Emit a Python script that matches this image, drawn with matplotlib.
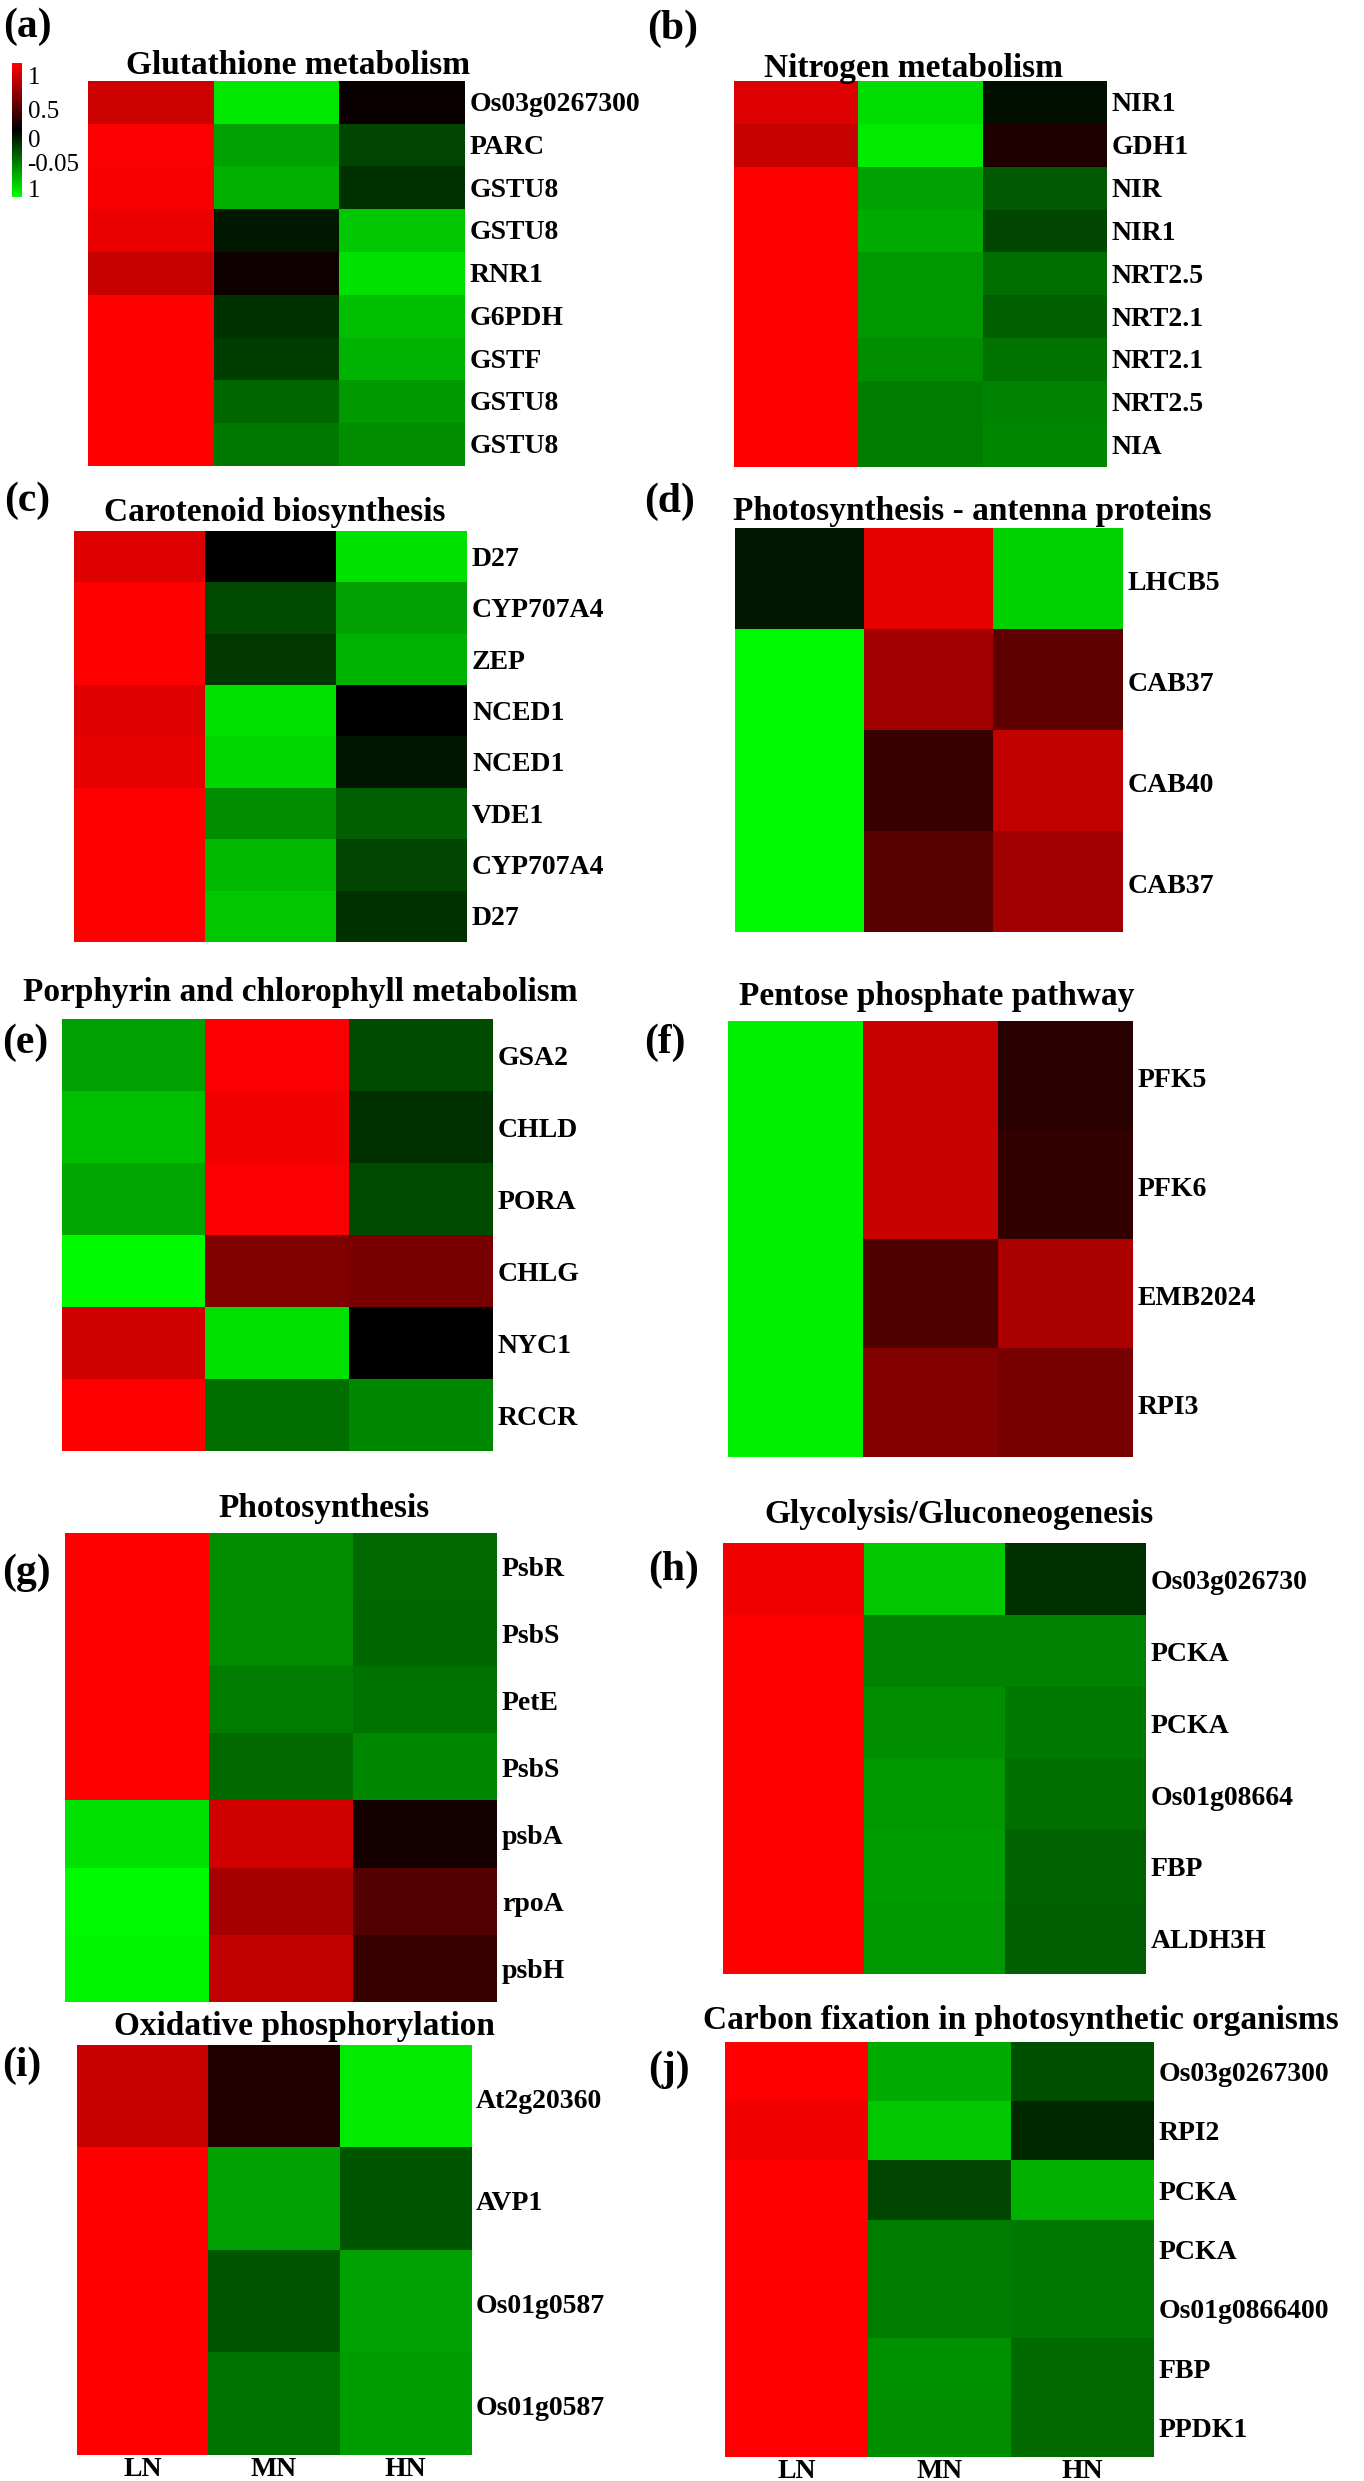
import numpy as np
import matplotlib
matplotlib.use("Agg")
import matplotlib.pyplot as plt
from matplotlib.colors import LinearSegmentedColormap, Normalize
from matplotlib.cm import ScalarMappable
from matplotlib.transforms import Bbox, TransformedBbox

plt.rcParams['font.family'] = ['Liberation Serif', 'DejaVu Serif']

conditions = ['LN', 'MN', 'HN']

# scaled expression, columns LN / MN / HN
glutathione_genes = ['Os03g0267300', 'PARC', 'GSTU8', 'GSTU8', 'RNR1', 'G6PDH', 'GSTF', 'GSTU8', 'GSTU8']
glutathione_vals = [[0.80, -0.90, 0.04], [0.98, -0.63, -0.27], [0.97, -0.69, -0.20],
                    [0.92, -0.10, -0.78], [0.78, 0.06, -0.88], [1.00, -0.20, -0.75],
                    [1.00, -0.24, -0.70], [1.00, -0.40, -0.60], [1.00, -0.47, -0.55]]

nitrogen_genes = ['NIR1', 'GDH1', 'NIR', 'NIR1', 'NRT2.5', 'NRT2.1', 'NRT2.1', 'NRT2.5', 'NIA']
nitrogen_vals = [[0.86, -0.86, -0.06], [0.78, -0.92, 0.12], [1.00, -0.63, -0.35],
                 [1.00, -0.67, -0.27], [1.00, -0.59, -0.43], [1.00, -0.59, -0.37],
                 [1.00, -0.55, -0.45], [1.00, -0.49, -0.51], [1.00, -0.49, -0.53]]

carotenoid_genes = ['D27', 'CYP707A4', 'ZEP', 'NCED1', 'NCED1', 'VDE1', 'CYP707A4', 'D27']
carotenoid_vals = [[0.86, 0.00, -0.88], [1.00, -0.29, -0.63], [1.00, -0.22, -0.70],
                   [0.86, -0.88, 0.00], [0.90, -0.84, -0.08], [1.00, -0.55, -0.37],
                   [1.00, -0.72, -0.27], [1.00, -0.78, -0.20]]

antenna_genes = ['LHCB5', 'CAB37', 'CAB40', 'CAB37']
antenna_vals = [[-0.10, 0.90, -0.82], [-0.98, 0.63, 0.37], [-0.98, 0.22, 0.75], [-0.98, 0.35, 0.63]]

porphyrin_genes = ['GSA2', 'CHLD', 'PORA', 'CHLG', 'NYC1', 'RCCR']
porphyrin_vals = [[-0.63, 0.98, -0.29], [-0.75, 0.94, -0.18], [-0.65, 0.98, -0.29],
                  [-0.98, 0.50, 0.47], [0.82, -0.88, 0.00], [1.00, -0.43, -0.53]]

pentose_genes = ['PFK5', 'PFK6', 'EMB2024', 'RPI3']
pentose_vals = [[-0.94, 0.78, 0.16], [-0.94, 0.78, 0.20], [-0.94, 0.31, 0.67], [-0.94, 0.51, 0.47]]

photo_genes = ['PsbR', 'PsbS', 'PetE', 'PsbS', 'psbA', 'rpoA', 'psbH']
photo_vals = [[1.00, -0.55, -0.41], [1.00, -0.55, -0.40], [1.00, -0.49, -0.45],
              [1.00, -0.41, -0.53], [-0.88, 0.82, 0.08], [-0.98, 0.65, 0.33], [-0.96, 0.75, 0.22]]

glycolysis_genes = ['Os03g026730', 'PCKA', 'PCKA', 'Os01g08664', 'FBP', 'ALDH3H']
glycolysis_vals = [[0.94, -0.78, -0.18], [1.00, -0.51, -0.51], [1.00, -0.55, -0.47],
                   [1.00, -0.59, -0.43], [1.00, -0.61, -0.39], [1.00, -0.59, -0.37]]

oxphos_genes = ['At2g20360', 'AVP1', 'Os01g0587', 'Os01g0587']
oxphos_vals = [[0.78, 0.14, -0.92], [1.00, -0.63, -0.33], [1.00, -0.33, -0.63], [1.00, -0.45, -0.61]]

carbon_genes = ['Os03g0267300', 'RPI2', 'PCKA', 'PCKA', 'Os01g0866400', 'FBP', 'PPDK1']
carbon_vals = [[1.00, -0.67, -0.31], [0.94, -0.78, -0.16], [1.00, -0.27, -0.69],
               [1.00, -0.49, -0.47], [1.00, -0.49, -0.47], [1.00, -0.57, -0.41], [1.00, -0.55, -0.41]]

cbar_tick_values = [0.82, 0.30, -0.12, -0.49, -0.87]
cbar_tick_labels = ['1', '0.5', '0', '-0.05', '1']

W, H = 1364, 2481
fig = plt.figure(figsize=(W / 100, H / 100), dpi=100)
cmap = LinearSegmentedColormap.from_list('gkr', ['#00ff00', '#000000', '#ff0000'])
norm = Normalize(-1, 1)


def px_axes(x0, x1, y0, y1):
    return fig.add_axes([x0 / W, 1 - y1 / H, (x1 - x0) / W, (y1 - y0) / H])


# tag, title, genes, values, heatmap box (px), title centre, tag position
panels = [
    ('(a)', 'Glutathione metabolism', glutathione_genes, glutathione_vals, (88, 465, 81, 466), (298, 65), (3, 27)),
    ('(b)', 'Nitrogen metabolism', nitrogen_genes, nitrogen_vals, (734, 1107, 81, 467), (914, 68), (647, 29)),
    ('(c)', 'Carotenoid biosynthesis', carotenoid_genes, carotenoid_vals, (74, 467, 531, 942), (275, 513), (4, 501)),
    ('(d)', 'Photosynthesis - antenna proteins', antenna_genes, antenna_vals, (735, 1123, 528, 932), (972, 512), (644, 502)),
    ('(e)', 'Porphyrin and chlorophyll metabolism', porphyrin_genes, porphyrin_vals, (62, 493, 1019, 1451), (300, 992), (2, 1043)),
    ('(f)', 'Pentose phosphate pathway', pentose_genes, pentose_vals, (728, 1133, 1021, 1457), (937, 997), (644, 1043)),
    ('(g)', 'Photosynthesis', photo_genes, photo_vals, (65, 497, 1533, 2002), (324, 1508), (2, 1573)),
    ('(h)', 'Glycolysis/Gluconeogenesis', glycolysis_genes, glycolysis_vals, (723, 1146, 1543, 1974), (959, 1515), (648, 1570)),
    ('(i)', 'Oxidative phosphorylation', oxphos_genes, oxphos_vals, (77, 471, 2045, 2455), (304, 2027), (2, 2066)),
    ('(j)', 'Carbon fixation in photosynthetic organisms', carbon_genes, carbon_vals, (725, 1154, 2042, 2457), (1021, 2020), (648, 2070)),
]

clip_box = TransformedBbox(Bbox([[0, 0], [682 / W, 1]]), fig.transFigure)

for tag, title, genes, vals, box, tpos, lpos in panels:
    ax = px_axes(*box)
    ax.imshow(np.array(vals), cmap=cmap, norm=norm, aspect='auto', interpolation='nearest')
    ax.set_axis_off()
    dx = 5 / (box[1] - box[0])
    for r, g in enumerate(genes):
        t = ax.text(1 + dx, r + 0.05, g, transform=ax.get_yaxis_transform(), ha='left', va='center',
                    fontsize=20, fontweight='bold')
        if tag == '(i)':
            t.set_clip_box(clip_box)
            t.set_clip_on(True)
    if tag in ('(i)', '(j)'):
        for c, cond in enumerate(conditions):
            ax.text(c, -0.006, cond, transform=ax.get_xaxis_transform(), ha='center', va='top',
                    fontsize=20, fontweight='bold')
    fig.text(tpos[0] / W, 1 - tpos[1] / H, title, ha='center', va='center', fontsize=24, fontweight='bold')
    fig.text(lpos[0] / W, 1 - lpos[1] / H, tag, ha='left', va='center', fontsize=30, fontweight='bold')

cax = px_axes(12, 22, 63, 197)
cb = fig.colorbar(ScalarMappable(norm=norm, cmap=cmap), cax=cax)
cb.set_ticks(cbar_tick_values, labels=cbar_tick_labels)
cb.ax.tick_params(length=0, labelsize=18, pad=4)
cb.outline.set_visible(False)

fig.savefig('out.png', dpi=100, facecolor='white')
